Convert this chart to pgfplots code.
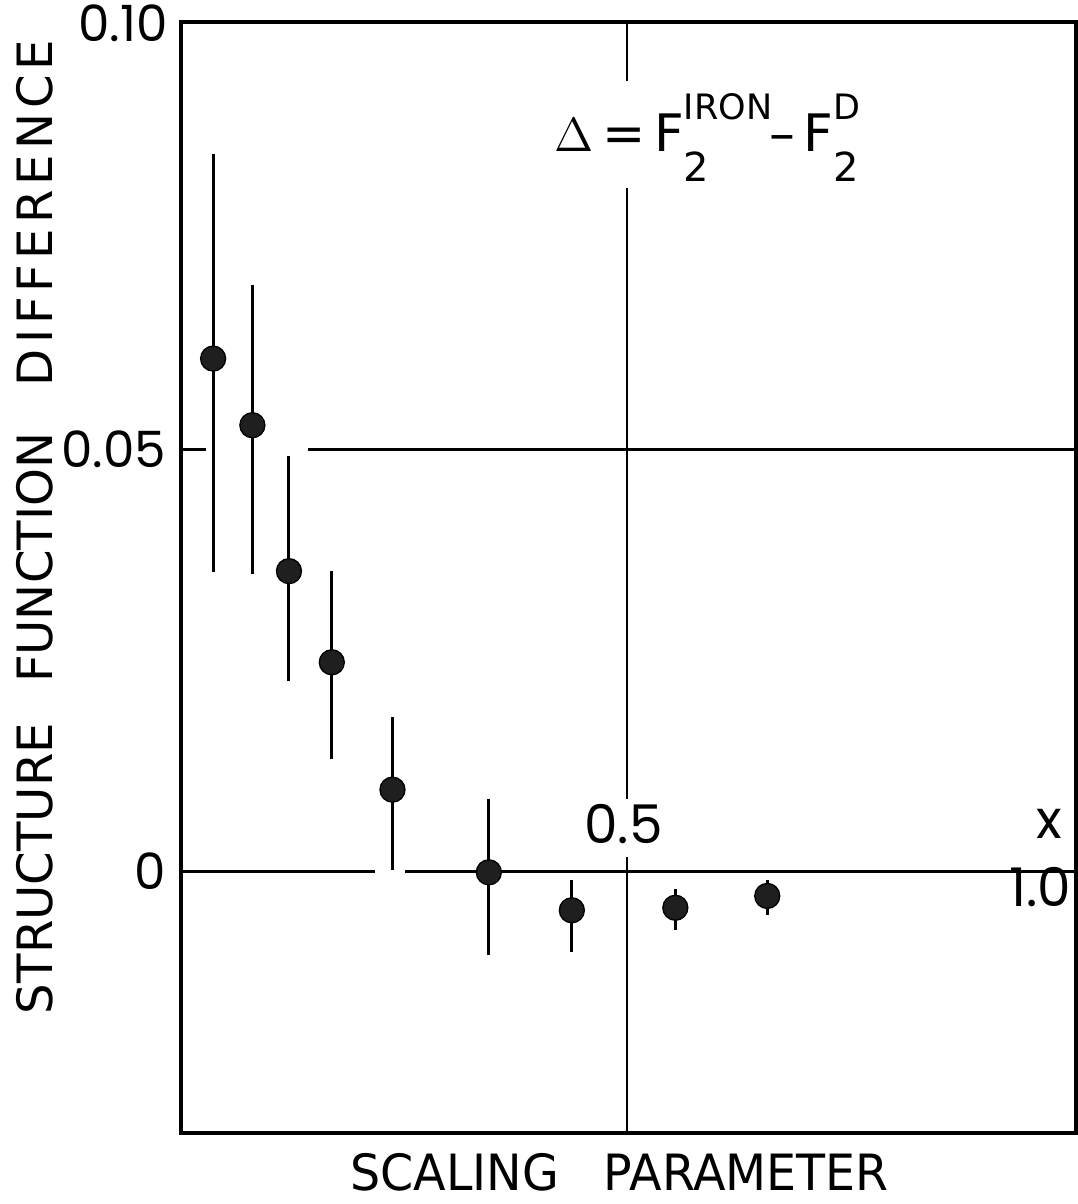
\documentclass[border=0pt]{standalone}
\usepackage{fontspec}
\setmainfont{DejaVu Sans}
\newfontfamily\lbl[FakeStretch=0.99]{DejaVu Sans}
\newfontfamily\xlbl[FakeStretch=0.95]{DejaVu Sans}
\newfontfamily\num{Poppins}
\usepackage{pgfplots}
\usepackage{pgfplotstable}
\pgfplotsset{compat=1.18}

% x, y, error up, error down
\pgfplotstableread{
x     y       ep      em
0.036 0.0608  0.0242  0.0253
0.080 0.0529  0.0166  0.0176
0.121 0.0356  0.0137  0.0130
0.169 0.0248  0.0108  0.0115
0.237 0.0097  0.0086  0.0095
0.345 -0.0001 0.0087  0.0098
0.438 -0.0046 0.0036  0.0049
0.554 -0.0043 0.0022  0.0026
0.657 -0.0029 0.0019  0.0022
}\diffdata

\newcommand\sk{\kern1.5pt}

\begin{document}
\begin{tikzpicture}
\begin{axis}[
  name=ax,
  scale only axis,
  width=268.5pt, height=333.3pt,
  xmin=0, xmax=1.003,
  ymin=-0.031, ymax=0.1007,
  clip=false,
  axis line style={line width=1.2pt},
  xtick=\empty,
  ytick={0,0.05},
  yticklabels={0,0.05},
  ytick pos=left,
  major tick length=7.5pt,
  tick style={line width=0.8pt,black},
  yticklabel style={font=\num\fontsize{15}{15}\selectfont, xshift=-1pt},
]
% hand-drawn reference lines (with gaps as in the original)
\addplot[line width=0.75pt] coordinates {(0.142,0.05)(1.003,0.05)};
\addplot[line width=0.75pt] coordinates {(0,0)(0.217,0)};
\addplot[line width=0.75pt] coordinates {(0.251,0)(1.003,0)};
\addplot[line width=0.75pt] coordinates {(0.5,0.1007)(0.5,0.0937)};
\addplot[line width=0.75pt] coordinates {(0.5,0.081)(0.5,0.0086)};
\addplot[line width=0.75pt] coordinates {(0.5,0.0017)(0.5,-0.031)};

\addplot[only marks, mark=*, mark size=3.75pt,
  mark options={fill=black!88, draw=black},
  error bars/.cd, y dir=both, y explicit,
  error mark=none, error bar style={line width=0.9pt,black}]
  table[x=x, y=y, y error plus=ep, y error minus=em]{\diffdata};

\node[font=\num\fontsize{15}{15}\selectfont, anchor=east] at ([xshift=-0.5pt,yshift=-0.5pt]rel axis cs:0,1) {0.10};
\node[font=\num\fontsize{16}{16}\selectfont] at (axis cs:0.496,0.0056) {0.5};
\node[font=\num\fontsize{16}{16}\selectfont] at (axis cs:0.973,0.0056) {x};
\node[font=\num\fontsize{16}{16}\selectfont] at (axis cs:0.963,-0.0018) {1.0};

\node[font=\fontsize{15.5}{15.5}\selectfont, inner sep=0pt] at (axis cs:0.589,0.0870)
  {$\Delta$\,=\,F\rlap{\raisebox{1.15ex}{\fontsize{10.5}{10.5}\selectfont IRON}}\raisebox{-1.05ex}{\fontsize{12}{12}\selectfont 2}\hphantom{\fontsize{10.5}{10.5}\selectfont IR}\ \,–\,F\rlap{\raisebox{1.15ex}{\fontsize{10.5}{10.5}\selectfont D}}\raisebox{-1.05ex}{\fontsize{12}{12}\selectfont 2}};

\node[rotate=90, font=\lbl\fontsize{14.6}{14.6}\selectfont, inner sep=0pt] at (rel axis cs:-0.163,0.5455)
  {STRUCTURE\hspace{12pt}FUNCTION\hspace{14pt}D\sk I\sk F\sk F\sk E\sk R\sk E\sk N\sk C\sk E};
\node[font=\xlbl\fontsize{15}{15}\selectfont] at (rel axis cs:0.49,-0.035)
  {SCALING\hspace{0.9em}PARAMETER};
\end{axis}
\pgfresetboundingbox
\path ([shift={(-54.3pt,-21.3pt)}]ax.south west) rectangle ([shift={(0.6pt,6.6pt)}]ax.north east);
\end{tikzpicture}
\end{document}
